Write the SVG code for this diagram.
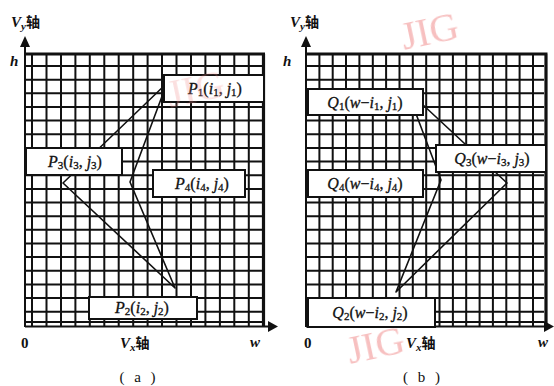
<svg xmlns="http://www.w3.org/2000/svg" width="554" height="386" viewBox="0 0 554 386">
<style>
.grid{fill:none;stroke:#111;stroke-width:2}
.thick{fill:none;stroke:#111;stroke-width:3.2}
.conn{fill:none;stroke:#111;stroke-width:1.6;stroke-linejoin:round}
.box{fill:#fff;stroke:#111;stroke-width:2}
.lbl{font-family:"Liberation Serif","Times New Roman",serif;font-size:16px;fill:#111;stroke:#111;stroke-width:0.3}
.ax{font-family:"Liberation Serif","Noto Sans CJK SC",serif;font-size:15px;fill:#111}
.it{font-style:italic}
.b{font-weight:bold}
.sub{font-size:11px}
.cjk{font-family:"Noto Sans CJK SC",sans-serif;font-size:14px;font-weight:bold}
.wm{font-family:"Liberation Serif",serif;font-size:40px;fill:#f08c8c}
</style>
<defs>
<path id="hgrid" d="M25 66H263M25 79.7H263M25 93.3H263M25 107H263M25 120.6H263M25 134.3H263M25 147.9H263M25 161.6H263M25 175.2H263M25 188.9H263M25 202.5H263M25 216.2H263M25 229.8H263M25 243.5H263M25 257.1H263M25 270.8H263M25 284.4H263M25 298.1H263M25 311.7H263M25 322H263"/>
</defs>
<rect width="554" height="386" fill="#fff"/>
<!-- left panel grid -->
<g id="gridA">
<use href="#hgrid" class="grid"/>
<path class="grid" d="M32 54V327M46.5 54V327M61 54V327M75.4 54V327M89.8 54V327M104.3 54V327M118.7 54V327M133.2 54V327M147.6 54V327M162 54V327M176.5 54V327M191 54V327M205.4 54V327M219.9 54V327M234.3 54V327M248.8 54V327"/>
<path class="thick" d="M25 54H265M263.5 54V327"/>
<path class="grid" d="M25 327V46M25 326.5H270"/>
<polygon points="20,47 25,36 30,47" fill="#111"/>
<polygon points="268,321 278,326.5 268,332" fill="#111"/>
</g>
<!-- right panel grid -->
<g id="gridB">
<use href="#hgrid" class="grid" transform="translate(281,0)"/>
<path class="grid" d="M319.4 54V327M332.7 54V327M346 54V327M359.4 54V327M372.8 54V327M386.1 54V327M399.5 54V327M412.8 54V327M426.2 54V327M439.5 54V327M452.9 54V327M466.2 54V327M479.6 54V327M492.9 54V327M506.3 54V327M519.6 54V327M533 54V327"/>
<path class="thick" d="M306 54H547.5M546 54V327"/>
<path class="grid" d="M306 327V46M306 326.5H546"/>
<polygon points="301,47 306,36 311,47" fill="#111"/>
<polygon points="544,321 554,326.5 544,332" fill="#111"/>
</g>
<!-- connectors -->
<g id="connectors">
<polygon class="conn" points="167,83 63,183 175,288 130,182"/>
<polygon class="conn" points="407,90 507,183 396,292 441,180"/>
</g>
<!-- left nodes -->
<g id="P1"><rect class="box" x="164" y="75" width="100" height="27"/>
<text class="lbl" x="215" y="94" text-anchor="middle"><tspan class="it">P</tspan><tspan class="sub" dy="2">1</tspan><tspan dy="-2">(</tspan><tspan class="it">i</tspan><tspan class="sub" dy="2">1</tspan><tspan dy="-2">, </tspan><tspan class="it">j</tspan><tspan class="sub" dy="2">1</tspan><tspan dy="-2">)</tspan></text></g>
<g id="P3"><rect class="box" x="26" y="148" width="96" height="27"/>
<text class="lbl" x="75" y="167" text-anchor="middle"><tspan class="it">P</tspan><tspan class="sub" dy="2">3</tspan><tspan dy="-2">(</tspan><tspan class="it">i</tspan><tspan class="sub" dy="2">3</tspan><tspan dy="-2">, </tspan><tspan class="it">j</tspan><tspan class="sub" dy="2">3</tspan><tspan dy="-2">)</tspan></text></g>
<g id="P4"><rect class="box" x="153" y="170" width="92" height="27"/>
<text class="lbl" x="202" y="189" text-anchor="middle"><tspan class="it">P</tspan><tspan class="sub" dy="2">4</tspan><tspan dy="-2">(</tspan><tspan class="it">i</tspan><tspan class="sub" dy="2">4</tspan><tspan dy="-2">, </tspan><tspan class="it">j</tspan><tspan class="sub" dy="2">4</tspan><tspan dy="-2">)</tspan></text></g>
<g id="P2"><rect class="box" x="89" y="297" width="108" height="22"/>
<text class="lbl" x="142" y="313" text-anchor="middle"><tspan class="it">P</tspan><tspan class="sub" dy="2">2</tspan><tspan dy="-2">(</tspan><tspan class="it">i</tspan><tspan class="sub" dy="2">2</tspan><tspan dy="-2">, </tspan><tspan class="it">j</tspan><tspan class="sub" dy="2">2</tspan><tspan dy="-2">)</tspan></text></g>
<!-- right nodes -->
<g id="Q1"><rect class="box" x="308" y="89" width="115" height="26"/>
<text class="lbl" x="365" y="108" text-anchor="middle"><tspan class="it">Q</tspan><tspan class="sub" dy="2">1</tspan><tspan dy="-2">(</tspan><tspan class="it">w</tspan><tspan>−</tspan><tspan class="it">i</tspan><tspan class="sub" dy="2">1</tspan><tspan dy="-2">, </tspan><tspan class="it">j</tspan><tspan class="sub" dy="2">1</tspan><tspan dy="-2">)</tspan></text></g>
<g id="Q3"><rect class="box" x="436" y="145" width="110" height="27"/>
<text class="lbl" x="492" y="164" text-anchor="middle"><tspan class="it">Q</tspan><tspan class="sub" dy="2">3</tspan><tspan dy="-2">(</tspan><tspan class="it">w</tspan><tspan>−</tspan><tspan class="it">i</tspan><tspan class="sub" dy="2">3</tspan><tspan dy="-2">, </tspan><tspan class="it">j</tspan><tspan class="sub" dy="2">3</tspan><tspan dy="-2">)</tspan></text></g>
<g id="Q4"><rect class="box" x="308" y="170" width="115" height="27"/>
<text class="lbl" x="365" y="189" text-anchor="middle"><tspan class="it">Q</tspan><tspan class="sub" dy="2">4</tspan><tspan dy="-2">(</tspan><tspan class="it">w</tspan><tspan>−</tspan><tspan class="it">i</tspan><tspan class="sub" dy="2">4</tspan><tspan dy="-2">, </tspan><tspan class="it">j</tspan><tspan class="sub" dy="2">4</tspan><tspan dy="-2">)</tspan></text></g>
<g id="Q2"><rect class="box" x="308" y="298" width="127" height="29"/>
<text class="lbl" x="370" y="318" text-anchor="middle"><tspan class="it">Q</tspan><tspan class="sub" dy="2">2</tspan><tspan dy="-2">(</tspan><tspan class="it">w</tspan><tspan>−</tspan><tspan class="it">i</tspan><tspan class="sub" dy="2">2</tspan><tspan dy="-2">, </tspan><tspan class="it">j</tspan><tspan class="sub" dy="2">2</tspan><tspan dy="-2">)</tspan></text></g>
<!-- axis labels left -->
<g id="axisA">
<text class="ax" x="11" y="27"><tspan class="it b">V</tspan><tspan class="it b sub" dy="3">y</tspan><tspan class="cjk" dy="-3">轴</tspan></text>
<text class="ax it b" x="10" y="66" font-size="14">h</text>
<text class="ax b" x="21" y="348">0</text>
<text class="ax" x="120" y="348"><tspan class="it b">V</tspan><tspan class="it b sub" dy="3">x</tspan><tspan class="cjk" dy="-3">轴</tspan></text>
<text class="ax it b" x="250" y="347">w</text>
<text class="ax" x="139" y="382" text-anchor="middle" letter-spacing="3">( a )</text>
</g>
<g id="axisB">
<text class="ax" x="290" y="27"><tspan class="it b">V</tspan><tspan class="it b sub" dy="3">y</tspan><tspan class="cjk" dy="-3">轴</tspan></text>
<text class="ax it b" x="283" y="66" font-size="14">h</text>
<text class="ax b" x="304" y="348">0</text>
<text class="ax" x="406" y="348"><tspan class="it b">V</tspan><tspan class="it b sub" dy="3">x</tspan><tspan class="cjk" dy="-3">轴</tspan></text>
<text class="ax it b" x="538" y="347">w</text>
<text class="ax" x="423" y="382" text-anchor="middle" letter-spacing="3">( b )</text>
</g>
<!-- watermarks -->
<g id="watermarks" opacity="0.55">
<text class="wm" x="0" y="0" transform="translate(404,50) rotate(-12)">JIG</text>
<text class="wm" x="0" y="0" transform="translate(350,364) rotate(-12)">JIG</text>
<text class="wm" x="0" y="0" font-size="36" opacity="0.5" transform="translate(170,108) rotate(-12)">JIG</text>
</g>
</svg>
